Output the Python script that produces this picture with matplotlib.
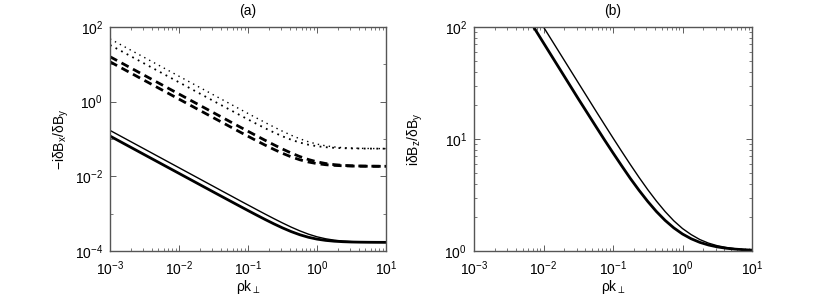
import numpy as np
import matplotlib
matplotlib.use("Agg")
import matplotlib.pyplot as plt
from matplotlib.ticker import LogLocator, NullFormatter

plt.rcParams['font.family'] = ['Liberation Sans', 'DejaVu Sans']
plt.rcParams['mathtext.fontset'] = 'custom'
plt.rcParams['mathtext.rm'] = 'Liberation Sans'
plt.rcParams['mathtext.it'] = 'Liberation Sans:italic'
plt.rcParams['mathtext.bf'] = 'Liberation Sans:bold'

# x grid (rho k_perp)
k = [1e-3, 3.162e-3, 1e-2, 3.162e-2, 4.217e-2, 5.623e-2, 7.499e-2, 0.1, 0.1334, 0.1778,
     0.2371, 0.3162, 0.4217, 0.5623, 0.7499, 1.0, 1.334, 1.778, 2.371, 3.162,
     4.217, 5.623, 7.499, 10.0]

# panel (a): -i dBx/dBy
a_solid_thin = [0.17, 0.0538, 0.017, 5.38e-3, 4.03e-3, 3.03e-3, 2.27e-3, 1.71e-3, 1.286e-3, 9.71e-4,
                7.37e-4, 5.64e-4, 4.37e-4, 3.47e-4, 2.83e-4, 2.40e-4, 2.125e-4, 1.95e-4, 1.845e-4, 1.783e-4,
                1.747e-4, 1.727e-4, 1.715e-4, 1.709e-4]
a_solid_thick = [0.12, 0.0379, 0.012, 3.795e-3, 2.851e-3, 2.142e-3, 1.61e-3, 1.212e-3, 9.16e-4, 6.96e-4,
                 5.34e-4, 4.16e-4, 3.315e-4, 2.73e-4, 2.335e-4, 2.081e-4, 1.924e-4, 1.829e-4, 1.774e-4, 1.742e-4,
                 1.724e-4, 1.713e-4, 1.707e-4, 1.704e-4]
a_dash_upper = [16.0, 5.06, 1.6, 0.506, 0.380, 0.285, 0.214, 0.161, 0.1214, 0.0919,
                0.070, 0.0539, 0.0422, 0.0339, 0.02824, 0.02446, 0.02205, 0.02057, 0.01969, 0.01918,
                0.01889, 0.01872, 0.01862, 0.01857]
a_dash_lower = [11.7, 3.70, 1.17, 0.370, 0.278, 0.209, 0.157, 0.1185, 0.0896, 0.0684,
                0.0527, 0.0414, 0.0333, 0.0278, 0.0242, 0.02189, 0.02047, 0.01964, 0.01915, 0.01887,
                0.01871, 0.01862, 0.01857, 0.01854]
a_dot_upper = [48.0, 15.2, 4.8, 1.52, 1.14, 0.855, 0.642, 0.483, 0.364, 0.2755,
               0.2098, 0.1615, 0.1264, 0.1015, 0.0844, 0.0730, 0.0657, 0.0613, 0.0586, 0.0571,
               0.0562, 0.0557, 0.0554, 0.0552]
a_dot_lower = [33.0, 10.44, 3.30, 1.044, 0.784, 0.590, 0.4435, 0.3346, 0.2534, 0.1936,
               0.1497, 0.1180, 0.0956, 0.0804, 0.0704, 0.0641, 0.0603, 0.0580, 0.0567, 0.0560,
               0.0556, 0.0553, 0.0552, 0.0551]

# panel (b): i dBz/dBy
b_thin = [1000.0, 316.2, 100.0, 31.8, 23.9, 17.95, 13.53, 10.22, 7.75, 5.91,
          4.54, 3.53, 2.79, 2.25, 1.86, 1.587, 1.40, 1.265, 1.175, 1.115,
          1.076, 1.049, 1.032, 1.021]
b_thick = [720.0, 227.7, 72.1, 22.9, 17.29, 13.05, 9.87, 7.52, 5.76, 4.44,
           3.48, 2.77, 2.25, 1.876, 1.608, 1.418, 1.286, 1.194, 1.131, 1.088,
           1.059, 1.040, 1.027, 1.018]

fig = plt.figure(figsize=(8.3, 3.04), dpi=100)
ax1 = fig.add_axes([110/830, 53/304, 276/830, 224/304])
ax2 = fig.add_axes([474/830, 53/304, 278/830, 224/304])

thin = 1.0
thick = 2.0
ax1.plot(k, a_solid_thin, color='k', lw=thin)
ax1.plot(k, a_solid_thick, color='k', lw=thick)
ax1.plot(k, a_dash_upper, color='k', lw=thick, dashes=(2.9, 1.8))
ax1.plot(k, a_dash_lower, color='k', lw=thick, dashes=(2.9, 1.8))
ax1.plot(k, a_dot_upper, color='k', lw=1.0, dashes=(1.0, 3.0))
ax1.plot(k, a_dot_lower, color='k', lw=1.3, dashes=(1.0, 2.5))

ax2.plot(k, b_thin, color='k', lw=thin)
ax2.plot(k, b_thick, color='k', lw=thick)

for ax in (ax1, ax2):
    ax.set_xscale('log')
    ax.set_yscale('log')
    ax.set_xlim(1e-3, 10)
    ax.xaxis.set_major_locator(LogLocator(base=10, numticks=10))
    ax.xaxis.set_minor_locator(LogLocator(base=10, subs=np.arange(2, 10), numticks=20))
    ax.xaxis.set_minor_formatter(NullFormatter())
    ax.tick_params(which='both', direction='in', top=True, right=True, labelsize=10, color='#444444')
    ax.tick_params(which='major', length=4, width=0.6)
    ax.tick_params(which='minor', length=2, width=0.5)
    ax.tick_params(axis='x', which='major', pad=6)
    ax.tick_params(axis='y', which='major', pad=5)
    for s in ax.spines.values():
        s.set_color('#555555')
        s.set_linewidth(1.0)
    ax.set_xlabel(r'ρk$_\mathregular{\perp}$', fontsize=10, labelpad=0)

ax1.set_ylim(1e-4, 1e2)
ax1.yaxis.set_major_locator(LogLocator(base=100, numticks=10))
ax1.yaxis.set_minor_locator(LogLocator(base=10, subs=(1.0,), numticks=20))
ax1.yaxis.set_minor_formatter(NullFormatter())
ax1.set_ylabel(r'$-$iδB$_\mathregular{x}$/δB$_\mathregular{y}$', fontsize=10, labelpad=3)
ax1.set_title('(a)', fontsize=10, pad=9)

ax2.set_ylim(1, 1e2)
ax2.yaxis.set_major_locator(LogLocator(base=10, numticks=10))
ax2.yaxis.set_minor_locator(LogLocator(base=10, subs=np.arange(2, 10), numticks=20))
ax2.yaxis.set_minor_formatter(NullFormatter())
ax2.set_ylabel(r'iδB$_\mathregular{z}$/δB$_\mathregular{y}$', fontsize=10, labelpad=14)
ax2.set_title('(b)', fontsize=10, pad=9)

fig.savefig('out.png', dpi=100)
